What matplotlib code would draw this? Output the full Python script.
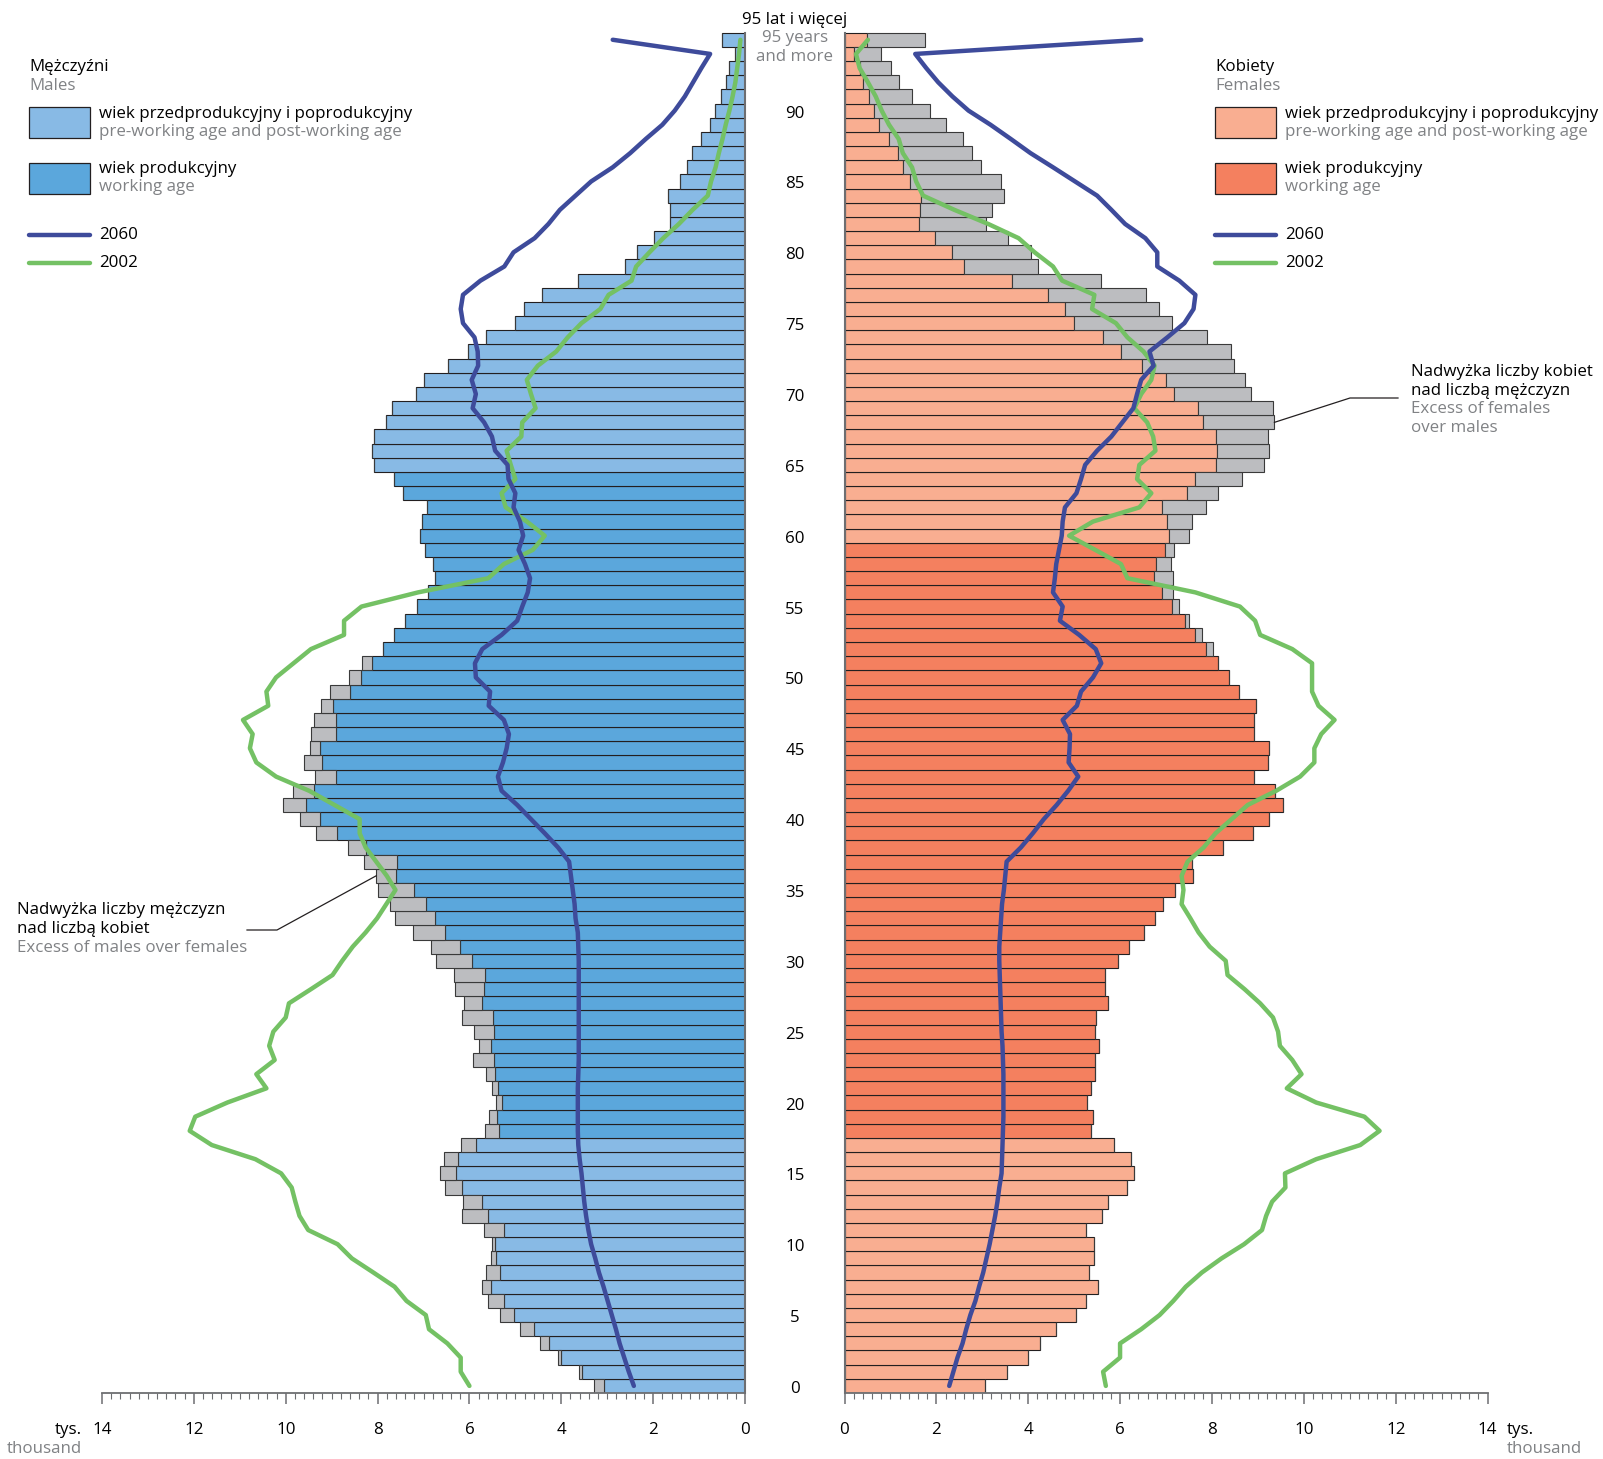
import matplotlib
matplotlib.use('Agg')
import matplotlib.pyplot as plt
import numpy as np
from matplotlib.patches import Rectangle
from matplotlib.ticker import MultipleLocator

plt.rcParams['font.family'] = ['Open Sans', 'DejaVu Sans']

#------------ DATA ----------------------------
ages = np.arange(0, 96)

# population 2012 (thousand)
males = [3.28, 3.62, 4.07, 4.47, 4.90, 5.33, 5.59, 5.72, 5.63, 5.54,
         5.51, 5.68, 6.17, 6.14, 6.53, 6.63, 6.56, 6.18, 5.66, 5.58,
         5.43, 5.51, 5.65, 5.92, 5.80, 5.90, 6.16, 6.11, 6.32, 6.33,
         6.72, 6.83, 7.22, 7.62, 7.74, 7.99, 8.03, 8.29, 8.64, 9.35,
         9.69, 10.05, 9.84, 9.37, 9.60, 9.47, 9.45, 9.38, 9.24, 9.03,
         8.63, 8.33, 7.88, 7.64, 7.41, 7.14, 6.91, 6.74, 6.79, 6.97,
         7.07, 7.03, 6.92, 7.45, 7.64, 8.08, 8.12, 8.08, 7.81, 7.69,
         7.17, 7.00, 6.47, 6.03, 5.63, 5.00, 4.81, 4.43, 3.64, 2.61,
         2.35, 1.98, 1.63, 1.64, 1.67, 1.42, 1.27, 1.16, 0.96, 0.76,
         0.65, 0.53, 0.41, 0.34, 0.21, 0.49]
females = [3.06, 3.54, 4.00, 4.26, 4.60, 5.04, 5.25, 5.53, 5.33, 5.43,
           5.44, 5.25, 5.60, 5.73, 6.16, 6.30, 6.24, 5.86, 5.36, 5.41,
           5.28, 5.37, 5.45, 5.46, 5.54, 5.46, 5.48, 5.73, 5.68, 5.67,
           5.95, 6.20, 6.53, 6.75, 6.94, 7.20, 7.59, 7.57, 8.25, 8.89,
           9.25, 9.55, 9.38, 8.91, 9.21, 9.25, 8.91, 8.91, 8.96, 8.59,
           8.37, 8.13, 8.02, 7.78, 7.50, 7.29, 7.15, 7.15, 7.10, 7.17,
           7.49, 7.57, 7.87, 8.14, 8.66, 9.14, 9.25, 9.23, 9.36, 9.33,
           8.84, 8.73, 8.49, 8.42, 7.89, 7.14, 6.84, 6.57, 5.58, 4.21,
           4.06, 3.56, 3.08, 3.22, 3.48, 3.41, 2.97, 2.78, 2.58, 2.22,
           1.87, 1.48, 1.18, 1.02, 0.79, 1.76]

# projection 2060 and census 2002
males_2060 = [2.42, 2.53, 2.63, 2.73, 2.81, 2.90, 2.99, 3.08, 3.18, 3.26,
              3.35, 3.41, 3.46, 3.50, 3.53, 3.56, 3.60, 3.63, 3.64, 3.64,
              3.64, 3.64, 3.63, 3.62, 3.62, 3.62, 3.62, 3.62, 3.62, 3.62,
              3.62, 3.63, 3.64, 3.69, 3.71, 3.75, 3.79, 3.83, 4.07, 4.36,
              4.66, 4.96, 5.30, 5.38, 5.27, 5.19, 5.14, 5.25, 5.58, 5.55,
              5.86, 5.88, 5.72, 5.30, 4.96, 4.85, 4.73, 4.68, 4.79, 4.93,
              4.83, 4.90, 5.04, 5.00, 5.15, 5.17, 5.44, 5.51, 5.68, 5.93,
              5.86, 5.95, 5.81, 5.82, 5.89, 6.14, 6.19, 6.14, 5.76, 5.24,
              5.04, 4.58, 4.28, 4.03, 3.69, 3.35, 2.88, 2.50, 2.16, 1.80,
              1.53, 1.31, 1.13, 0.95, 0.76, 2.88]
males_2002 = [6.00, 6.19, 6.19, 6.48, 6.88, 6.95, 7.37, 7.63, 8.09, 8.56,
              8.87, 9.51, 9.70, 9.79, 9.87, 10.10, 10.66, 11.61, 12.09, 11.97,
              11.27, 10.42, 10.64, 10.24, 10.36, 10.27, 10.00, 9.93, 9.45, 8.98,
              8.77, 8.54, 8.26, 8.01, 7.81, 7.61, 7.80, 8.03, 8.26, 8.39,
              8.39, 8.94, 9.49, 10.21, 10.64, 10.78, 10.72, 10.93, 10.38, 10.42,
              10.21, 9.83, 9.45, 8.73, 8.73, 8.35, 7.12, 5.59, 5.25, 4.62,
              4.36, 4.75, 5.21, 5.30, 5.00, 5.10, 5.19, 4.87, 4.85, 4.56,
              4.66, 4.75, 4.51, 4.11, 3.86, 3.56, 3.15, 2.97, 2.47, 2.37,
              2.08, 1.78, 1.44, 1.14, 0.81, 0.74, 0.64, 0.57, 0.49, 0.42,
              0.34, 0.27, 0.21, 0.17, 0.13, 0.10]
females_2060 = [2.28, 2.37, 2.46, 2.57, 2.65, 2.74, 2.85, 2.93, 3.02, 3.09,
                3.16, 3.22, 3.28, 3.33, 3.37, 3.42, 3.43, 3.44, 3.45, 3.46,
                3.46, 3.46, 3.46, 3.45, 3.44, 3.42, 3.41, 3.40, 3.39, 3.38,
                3.37, 3.37, 3.39, 3.41, 3.43, 3.47, 3.50, 3.53, 3.84, 4.10,
                4.34, 4.62, 4.87, 5.09, 4.88, 4.90, 4.91, 4.75, 5.06, 5.15,
                5.41, 5.59, 5.47, 5.11, 4.69, 4.75, 4.54, 4.58, 4.61, 4.67,
                4.73, 4.75, 4.80, 5.05, 5.15, 5.24, 5.50, 5.81, 6.05, 6.29,
                6.37, 6.46, 6.73, 6.64, 7.03, 7.40, 7.60, 7.64, 7.29, 6.81,
                6.81, 6.55, 6.11, 5.81, 5.50, 5.02, 4.54, 4.05, 3.62, 3.18,
                2.70, 2.35, 2.04, 1.78, 1.54, 6.46]
females_2002 = [5.69, 5.63, 6.00, 6.00, 6.46, 6.86, 7.16, 7.43, 7.78, 8.21,
                8.70, 9.09, 9.18, 9.31, 9.60, 9.59, 10.27, 11.23, 11.65, 11.32,
                10.27, 9.63, 9.95, 9.75, 9.48, 9.44, 9.33, 9.05, 8.71, 8.34,
                8.30, 7.95, 7.71, 7.53, 7.34, 7.38, 7.34, 7.47, 7.82, 8.08,
                8.43, 8.78, 9.40, 9.92, 10.23, 10.23, 10.38, 10.67, 10.32, 10.18,
                10.18, 10.18, 9.75, 9.05, 8.94, 8.61, 7.64, 6.16, 6.02, 5.46,
                4.89, 5.41, 6.42, 6.68, 6.37, 6.42, 6.77, 6.72, 6.59, 6.31,
                6.46, 6.68, 6.75, 6.51, 6.16, 5.91, 5.39, 5.44, 4.74, 4.54,
                4.14, 3.79, 3.13, 2.39, 1.71, 1.56, 1.47, 1.27, 1.18, 0.97,
                0.81, 0.68, 0.51, 0.33, 0.25, 0.51]

# working age: males 18-64, females 18-59
male_work = (18, 64)
female_work = (18, 59)

age_labels = list(range(0, 95, 5))
x_ticks = list(range(0, 15, 2))

#------------ STYLE ----------------------------
W, H = 1603, 1459
c_m_light = '#88bae5'
c_m_dark = '#5ba7dc'
c_f_light = '#f9ae91'
c_f_dark = '#f4805f'
c_gray = '#bcbdc0'
c_2060 = '#3e4b9b'
c_2002 = '#74c164'
c_txt2 = '#808285'
c_axis = '#6d6e71'
fs = 12.2

males = np.array(males)
females = np.array(females)
common = np.minimum(males, females)

fig = plt.figure(figsize=(W / 100, H / 100), dpi=100)

bottom = (H - 1393) / H
height = 97 * 14.17 / H
axL = fig.add_axes([102 / W, bottom, 643 / W, height])
axR = fig.add_axes([844.5 / W, bottom, 643 / W, height])

def draw_side(ax, own, work, light, dark, l2060, l2002):
    cols = [dark if work[0] <= a <= work[1] else light for a in ages]
    ax.barh(ages, common, height=1.0, color=cols, edgecolor='#231f20',
            linewidth=0.8, zorder=2)
    extra = np.where(own > common, own - common, 0)
    ax.barh(ages, extra, left=common, height=1.0, color=c_gray,
            edgecolor='#3a3a3a', linewidth=0.8, zorder=2)
    ax.plot(l2060, ages, color=c_2060, lw=3.2, solid_joinstyle='round',
            solid_capstyle='round', zorder=5, clip_on=False)
    ax.plot(l2002, ages, color=c_2002, lw=3.2, solid_joinstyle='round',
            solid_capstyle='round', zorder=4, clip_on=False)
    ax.set_xlim(0, 14)
    ax.set_ylim(-0.5, 96.5)
    ax.set_yticks([])
    for s in ['top', 'left', 'right', 'bottom']:
        ax.spines[s].set_visible(False)
    ax.spines['bottom'].set_visible(True)
    ax.spines['bottom'].set_color(c_axis)
    ax.spines['bottom'].set_linewidth(1.3)
    ax.xaxis.set_major_locator(MultipleLocator(2))
    ax.xaxis.set_minor_locator(MultipleLocator(0.2))
    ax.tick_params(axis='x', which='major', length=8, width=1.1, color=c_axis,
                   pad=13, labelsize=fs)
    ax.tick_params(axis='x', which='minor', length=4, width=0.8, color=c_axis)
    ax.set_xticks(x_ticks)
    ax.set_xticklabels([str(t) for t in x_ticks])
    ax.patch.set_visible(False)

draw_side(axL, males, male_work, c_m_light, c_m_dark, males_2060, males_2002)
draw_side(axR, females, female_work, c_f_light, c_f_dark, females_2060, females_2002)
axL.invert_xaxis()
axL.spines['right'].set_visible(True)
axL.spines['right'].set_color(c_axis)
axL.spines['right'].set_linewidth(1.5)
axL.spines['right'].set_bounds(-0.5, 95.5)
axR.spines['left'].set_visible(True)
axR.spines['left'].set_color(c_axis)
axR.spines['left'].set_linewidth(1.5)
axR.spines['left'].set_bounds(-0.5, 95.5)

# overlay in pixel coordinates for legend and texts
ov = fig.add_axes([0, 0, 1, 1])
ov.set_xlim(0, W)
ov.set_ylim(H, 0)
ov.axis('off')

def to_px(ax, x, y):
    px, py = ax.transData.transform((x, y))
    return px, H - py

# age labels in the middle
for a in age_labels:
    _, py = to_px(axL, 0, a)
    ov.text(795, py + 3, str(a), ha='center', va='center', fontsize=fs)
ov.text(795, 20, '95 lat i więcej', ha='center', va='center', fontsize=fs)
ov.text(795, 38, '95 years', ha='center', va='center', fontsize=fs, color=c_txt2)
ov.text(795, 57, 'and more', ha='center', va='center', fontsize=fs, color=c_txt2)

# units
ov.text(82, 1430, 'tys.', ha='right', va='center', fontsize=fs)
ov.text(82, 1449, 'thousand', ha='right', va='center', fontsize=fs, color=c_txt2)
ov.text(1507, 1430, 'tys.', ha='left', va='center', fontsize=fs)
ov.text(1507, 1449, 'thousand', ha='left', va='center', fontsize=fs, color=c_txt2)

# legends
def legend(x0, title, title_en, light, dark):
    ov.text(x0, 67, title, ha='left', va='center', fontsize=fs)
    ov.text(x0, 86, title_en, ha='left', va='center', fontsize=fs, color=c_txt2)
    ov.add_patch(Rectangle((x0, 107), 61, 31, facecolor=light,
                           edgecolor='#231f20', lw=0.9))
    ov.add_patch(Rectangle((x0, 163), 61, 31, facecolor=dark,
                           edgecolor='#231f20', lw=0.9))
    tx = x0 + 70
    ov.text(tx, 114, 'wiek przedprodukcyjny i poprodukcyjny', ha='left',
            va='center', fontsize=fs)
    ov.text(tx, 132, 'pre-working age and post-working age', ha='left',
            va='center', fontsize=fs, color=c_txt2)
    ov.text(tx, 169, 'wiek produkcyjny', ha='left', va='center', fontsize=fs)
    ov.text(tx, 187, 'working age', ha='left', va='center', fontsize=fs,
            color=c_txt2)
    ov.plot([x0, x0 + 61], [235, 235], color=c_2060, lw=3.2,
            solid_capstyle='round')
    ov.plot([x0, x0 + 61], [263, 263], color=c_2002, lw=3.2,
            solid_capstyle='round')
    ov.text(tx, 235, '2060', ha='left', va='center', fontsize=fs)
    ov.text(tx, 263, '2002', ha='left', va='center', fontsize=fs)

legend(29, 'Mężczyźni', 'Males', c_m_light, c_m_dark)
legend(1215, 'Kobiety', 'Females', c_f_light, c_f_dark)

# annotations: excess of males / females
ov.text(17, 910, 'Nadwyżka liczby mężczyzn', ha='left', va='center', fontsize=fs)
ov.text(17, 929, 'nad liczbą kobiet', ha='left', va='center', fontsize=fs)
ov.text(17, 948, 'Excess of males over females', ha='left', va='center',
        fontsize=fs, color=c_txt2)
ex, ey = to_px(axL, males[36], 36)
ov.plot([247, 277, ex], [930, 930, ey], color='#231f20', lw=0.9)

ov.text(1411, 372, 'Nadwyżka liczby kobiet', ha='left', va='center', fontsize=fs)
ov.text(1411, 391, 'nad liczbą mężczyzn', ha='left', va='center', fontsize=fs)
ov.text(1411, 409, 'Excess of females', ha='left', va='center', fontsize=fs,
        color=c_txt2)
ov.text(1411, 428, 'over males', ha='left', va='center', fontsize=fs,
        color=c_txt2)
ex, ey = to_px(axR, females[68], 68)
ov.plot([1398, 1350, ex], [398, 398, ey], color='#231f20', lw=0.9)

fig.savefig('out.png', dpi=100)
